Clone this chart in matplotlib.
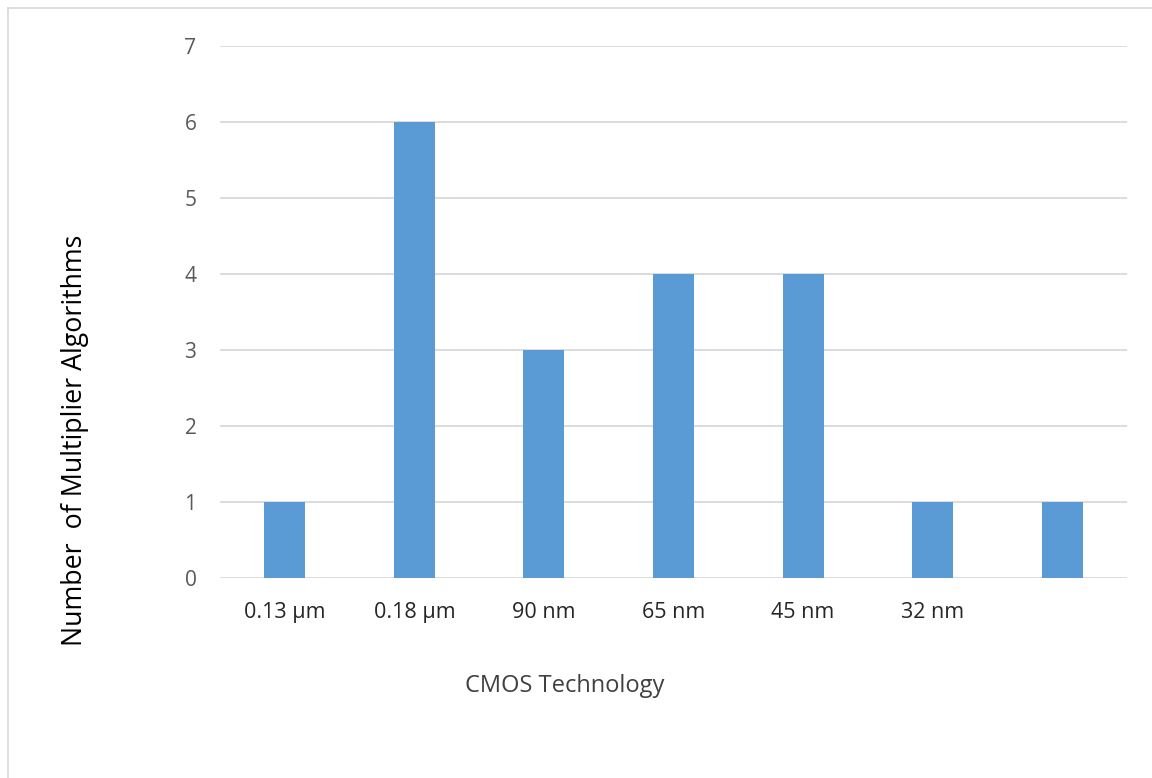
import matplotlib
matplotlib.use("Agg")
import matplotlib.pyplot as plt
from matplotlib.lines import Line2D

categories = ["0.13 µm", "0.18 µm", "90 nm", "65 nm", "45 nm", "32 nm", ""]
values = [1, 6, 3, 4, 4, 1, 1]
yticks = [0, 1, 2, 3, 4, 5, 6, 7]

plt.rcParams['font.family'] = ['Open Sans', 'DejaVu Sans']

W, H = 1152, 778
fig = plt.figure(figsize=(W / 100, H / 100), dpi=100)
fig.patch.set_facecolor("white")

# outer border (left and top only visible)
fig.lines.append(Line2D([7.5 / W, 7.5 / W], [0, 1 - 7.5 / H], transform=fig.transFigure,
                        color="#d9d9d9", linewidth=1.2))
fig.lines.append(Line2D([7.5 / W, 1], [1 - 7.5 / H, 1 - 7.5 / H], transform=fig.transFigure,
                        color="#d9d9d9", linewidth=1.2))

ax = fig.add_axes([220 / W, 1 - 578 / H, (1127 - 220) / W, (578 - 46) / H])
x = list(range(len(categories)))
ax.bar(x, values, width=0.316, color="#5b9bd5", zorder=3)
ax.set_xlim(-0.5, len(categories) - 0.5)
ax.set_ylim(0, 7)
ax.set_yticks(yticks)
ax.set_yticklabels([str(v) for v in yticks], fontsize=15, color="#595959")
ax.set_xticks(x)
ax.set_xticklabels(categories, fontsize=15.5, color="#262626")
ax.tick_params(axis="both", length=0)
ax.tick_params(axis="y", pad=17)
ax.tick_params(axis="x", pad=17)
ax.grid(axis="y", color="#d9d9d9", linewidth=1.3, zorder=0)
for s in ax.spines.values():
    s.set_visible(False)

fig.text(75 / W, 1 - 440 / H, "Number  of Multiplier Algorithms", rotation=90,
         ha="center", va="center", fontsize=19.3, color="#000000")
fig.text(565 / W, 1 - 686 / H, "CMOS Technology", ha="center", va="center",
         fontsize=17, color="#404040")

fig.savefig("out.png", dpi=100)
